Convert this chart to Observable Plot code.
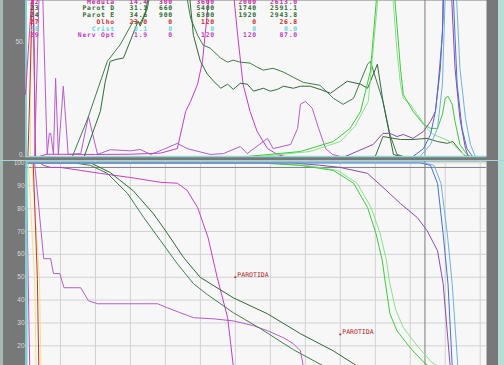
<!DOCTYPE html>
<html><head><meta charset="utf-8">
<script src="https://cdn.jsdelivr.net/npm/d3@7"></script>
<script src="https://cdn.jsdelivr.net/npm/@observablehq/plot@0.6"></script>
<style>
html,body{margin:0;padding:0;background:#787878;}
#wrap{position:relative;width:504px;height:365px;overflow:hidden;background:#787878;}
#edgeL{position:absolute;left:0;top:0;width:3px;height:365px;background:#a3bab5;}
#edgeR{position:absolute;left:498px;top:0;width:6px;height:365px;background:#b5ddd5;}
#top{position:absolute;left:0;top:0;}
#bot{position:absolute;left:0;top:160px;border-top:1px solid #9fd6d6;}
#table{position:absolute;left:0;top:0;width:504px;height:45px;font:bold 6.4px "DejaVu Sans Mono",monospace;letter-spacing:0.8px;}
#table span{position:absolute;white-space:pre;line-height:6px;}
</style></head>
<body>
<div id="wrap"><div id="edgeL"></div><div id="edgeR"></div><div id="top"></div><div id="bot"></div><div id="table"></div></div>
<script>
// ---- statistics table ----
const tableIds = ["22","23","24","27","28","29"];
const tableNames = ["Medula","Parot D","Parot E","Olho","Crist","Nerv Opt"];
const tableVolume = ["14.4","31.1","34.6","23.0","0.1","1.9"];
const tableMin = ["300","660","900","0","0","0"];
const tableMax = ["3600","5400","6300","120","0","120"];
const tableCol4 = ["2000","1740","1920","0","0","120"];
const tableMean = ["2613.0","2591.1","2943.8","26.8","0.0","87.0"];
const tableColors = ["#c42ea6","#2d6b2d","#2d6b2d","#d42a2a","#5fd7d7","#c23cc2"];

// ---- axes ----
const topTicks = [0, 50];
const bottomTicks = [20, 30, 40, 50, 60, 70, 80, 90, 100];
const doseGrid = [5,10,15,20,25,30,35,40,45,50,55,60,65];
const prescriptionDose = [57.1];
const refVolume = [98];
const constraintDose = [30, 45];
const constraintVolume = [50, 25];
const constraintLabel = ["PAROTIDA", "PAROTIDA"];

// ---- cumulative DVH (dose Gy, volume %) ----
const cumCrist = [[0.15,100],[0.15,11]];
const cumNervOpt = [[0.1,100],[0.2,82],[0.6,11]];
const cumYellow1 = [[0.4,100],[1.3,49],[1.5,11]];
const cumOlho = [[1.1,100],[1.7,49],[1.9,11]];
const cumYellow2 = [[0.9,100],[2.0,49],[2.2,11]];
const cumTail = [[1.3,100],[2.6,58.1],[3.6,58.1],[4.0,51.6],[4.9,51.6],[5.5,45.4],[7.9,45.4],[9.0,39.7],[10.3,38.4],[18.9,38.4],[20.3,36.6],[22.1,34.5],[24,32.3],[26.9,31.8],[29.7,30.9],[32.6,28.8],[34.6,26.6],[36.9,23.5],[38.3,20.9],[39.3,17.8],[39.7,11.2]];
const cumMedula = [[0,100],[2.0,100],[2.6,98.9],[3.6,98],[5,98],[7.9,96.7],[10.7,95.4],[15,93.6],[19.3,91.5],[21.7,91.1],[23.1,88],[24.6,80.5],[25.4,73.5],[26.1,67.3],[27.4,49.9],[28.9,32.3],[29.7,11.2]];
const cumParotD = [[0,100],[6.9,100],[9.3,98.9],[11.7,95.4],[14.6,86.6],[16.9,76.1],[19.3,66],[21.7,55.9],[24,47.2],[26,42.4],[29.7,34.5],[33.6,27.5],[38.3,18.3],[42.6,11.2]];
const cumParotE = [[0,100],[9.3,100],[12.1,95.8],[15.4,87.8],[18.3,77.7],[20.3,69.1],[22.6,58.6],[25,49.9],[29.7,41],[34.6,34],[39.3,25.3],[44,17.8],[47.4,11.2]];
const cumGreen1 = [[0,100],[33.6,100],[39.3,98.9],[44,96.7],[46.9,91.1],[48.9,80.5],[50.1,69.1],[51,57.3],[51.4,48.4],[52.1,34],[53.1,26.6],[55,19.1],[56.9,12.9],[57.6,11.2]];
const cumGreen2 = [[0,100],[32.9,100],[40,98.9],[44.6,96.7],[47.4,91.1],[49.4,80.5],[50.7,69.1],[51.6,57.3],[52,48.4],[52.9,36],[54,28],[56,20],[58,13],[58.9,11.2]];
const cumPurple = [[0,100],[38,100],[42,99],[45,98],[48.9,95.4],[51.1,89.3],[53.6,82.2],[56,76.1],[57.4,70.4],[58.9,61.6],[59.7,47.2],[60.7,11.2]];
const cumBlue1 = [[0,100],[56.4,100],[57.9,98.9],[58.9,91],[59.7,69],[60.4,47],[61,11.2]];
const cumBlue2 = [[0,100],[57,100],[58.4,98.9],[59.4,91],[60.3,69],[61,47],[61.8,11.2]];

// ---- differential DVH (dose Gy, relative volume) ----
const difCrist = [[0.1,0],[0.1,100]];
const difNervOpt = [[0,27.4],[1.1,80],[1.4,0]];
const difOlho = [[0.35,0],[0.65,32],[1.05,80],[1.45,0]];
const difYellow = [[0.7,0],[0.7,31.9],[1.0,90]];
const difTail = [[1.3,0],[2.2,100],[3.1,0.9],[3.4,10.2],[3.6,10.2],[4.0,0.9],[4.3,34.5],[4.7,0.9],[5.4,31],[6.1,0.9],[7.9,1.3],[9.0,17.7],[10.3,0.9],[12.1,3],[15,2.5],[16.4,3.1],[17.9,0.9],[19.7,3.1],[21.7,5.8],[23.1,3.5],[26.4,0.9],[28.3,1.3],[30.7,4.4],[31.7,1.3],[34.6,8],[35.4,3.5],[37.9,5.3],[38.9,12.4],[39.3,23],[40,24.3],[41,21.2],[41.9,12.4],[42.9,3.5],[43.9,0.9],[45,0]];
const difMedula = [[2.0,0],[3,1],[10,0.9],[15,1],[19.3,1.5],[21.7,3.5],[22.9,19.9],[23.6,24.3],[24.6,31.9],[25.3,42],[25.7,54.4],[27.5,110],[28.5,110],[30.3,54.4],[31.1,31.9],[32.1,19.9],[33.1,11.1],[34.6,3.5],[36,0.9],[37,0]];
const difParotD = [[6.7,0],[8.9,16.8],[11.7,42],[13.6,49.6],[15.4,59.7],[16.4,58.8],[17.4,65],[18.3,80],[22.5,80],[23.6,61.1],[24.6,53.5],[25.4,49.1],[26.4,47.8],[27.9,43.4],[28.9,41.6],[29.7,42.5],[30.7,41.6],[32.1,41.2],[33.1,39.4],[34,38.1],[35.4,38.9],[36.9,37.2],[38.3,34.9],[39.7,32.7],[42.1,31.4],[44,25.7],[45.4,23],[46.9,25.7],[48.9,40.7],[49.3,42],[51.1,24.3],[52.1,9.7],[53.1,0.9],[54,0]];
const difParotE = [[8.4,0],[10.7,19.9],[11.4,33],[12.1,42],[13.1,42.9],[14,43.4],[16.1,59.7],[16.4,57.5],[17.1,62.8],[18.5,85],[23,85],[24,53.5],[25,42],[26,36.3],[26.9,33.2],[27.9,30.1],[28.9,31.9],[29.7,29.6],[30.7,32.3],[31.7,31.9],[32.6,28.8],[34,30.1],[35,28.8],[36,29.6],[36.9,31],[38.3,30.1],[39.3,31],[40.7,31],[42.1,29.6],[43.6,27.9],[46,33.2],[47.9,31.9],[48.9,30.1],[50.3,40.7],[51.1,24.3],[52.6,0.9],[53.6,0]];
const difGreen3 = [[50,0],[51.1,8.8],[53.6,7.5],[55.4,7.5],[57.4,8],[58.9,6.6],[60.3,5.8],[61.1,6.6],[61.9,3.5],[62.6,0.9],[63.1,0]];
const difGreen1 = [[31.7,0],[39.3,2.2],[44,6.6],[46.4,12.4],[47.9,19.9],[49.3,37.6],[51,100],[52,100],[53.6,38.9],[54,27.4],[55.4,19.9],[56.9,14.2],[57.9,12.4],[58.9,12.4],[59.6,18.6],[60,25.7],[60.4,26.5],[61,23],[61.4,15.5],[62.1,5.3],[63.1,0.9],[63.6,0]];
const difGreen2 = [[33.6,0],[40.7,2.2],[45,6.6],[47.1,13.3],[49,24.3],[51.3,100],[51.8,100],[53.1,46.5],[53.6,31.9],[54,25.7],[55,23],[56,18.6],[57.4,12.4],[58.3,9.7],[59.7,8],[60.7,6.6],[61.7,3.5],[62.6,0.9],[63.1,0]];
const difPurple = [[45.7,0],[49.7,5.3],[51.1,10.2],[52.1,10.2],[53.1,8.8],[54,9.7],[55.4,8],[56.9,11.1],[57.9,15.5],[58.6,19.9],[59,31.9],[59.6,54],[59.9,110],[60.3,110],[61.4,38.9],[62.1,16.8],[62.9,3.5],[63.3,0]];
const difBlue1 = [[55.4,0],[56.9,3.5],[57.9,9.7],[58.6,19.9],[59.3,38.9],[59.7,61.1],[60,110],[60.6,110],[61.7,31.9],[62.4,12.4],[63.1,3.5],[63.9,0]];
const difBlue2 = [[56.4,0],[57.9,5.3],[58.9,12.4],[59.6,31.9],[60.4,110],[61,110],[62.1,38.9],[62.9,16.8],[63.6,5.3],[64.3,0]];

// ---- styles ----
const C = {
  crist:"#6ad8d8", nerv:"#d040b8", yellow:"#f0e48a", olho:"#c83030", tail:"#b65cd0",
  medula:"#c83cc8", parotD:"#3f7f47", parotE:"#2f6a3a", green1:"#3ccc3c", green2:"#88e288",
  purple:"#8a4cb0", blue1:"#4a6fd2", blue2:"#6fb1e2", green3:"#3a6e3a"
};
const xDomain = [0, 65.9];
const font = {fontFamily:"Liberation Sans, Arial, sans-serif", fontSize:"6.5px", background:"transparent", overflow:"visible"};
const L = (d, c, w=1) => Plot.line(d, {stroke:c, strokeWidth:w, clip:true});

const topPlot = Plot.plot({
  width:504, height:157, marginLeft:25, marginRight:18, marginTop:0, marginBottom:1,
  style:font,
  x:{domain:xDomain, axis:null},
  y:{domain:[0,68.8]},
  marks:[
    Plot.frame({fill:"#f7f7f7", stroke:null}),
    Plot.ruleX(prescriptionDose, {stroke:"#7c7c7c", strokeWidth:1}),
    Plot.ruleY([0], {stroke:"#8fd8d8", strokeWidth:1.5}),
    L(difCrist, C.crist, 1.5),
    L(difYellow, C.yellow),
    L(difOlho, C.olho),
    L(difNervOpt, C.nerv),
    L(difTail, C.tail),
    L(difMedula, C.medula),
    L(difParotD, C.parotD),
    L(difParotE, C.parotE),
    L(difGreen3, C.green3),
    L(difGreen2, C.green2),
    L(difGreen1, C.green1),
    L(difPurple, C.purple),
    L(difBlue1, C.blue1),
    L(difBlue2, C.blue2),
    Plot.axisY(topTicks, {tickSize:0, tickPadding:1, tickFormat:d => d + ".", color:"#dcdcdc", dy:-1.5, label:null})
  ]
});
document.getElementById("top").append(topPlot);

const constraints = constraintDose.map((d,i) => ({dose:d, vol:constraintVolume[i], label:constraintLabel[i]}));
const botPlot = Plot.plot({
  width:504, height:204, marginLeft:25, marginRight:18, marginTop:0, marginBottom:0,
  style:font,
  x:{domain:xDomain, axis:null},
  y:{domain:[11.4,100.6]},
  marks:[
    Plot.frame({fill:"#f7f7f7", stroke:null}),
    Plot.gridX(doseGrid, {stroke:"#d2d2d2", strokeOpacity:1}),
    Plot.gridY(bottomTicks, {stroke:"#d2d2d2", strokeOpacity:1}),
    Plot.ruleX(prescriptionDose, {stroke:"#7c7c7c", strokeWidth:1}),
    Plot.ruleY(refVolume, {stroke:"#808080", strokeWidth:1}),
    L(cumYellow1, C.yellow),
    L(cumYellow2, C.yellow),
    L(cumOlho, C.olho),
    L(cumNervOpt, C.nerv),
    L(cumTail, C.tail),
    L(cumMedula, C.medula),
    L(cumParotD, C.parotD),
    L(cumParotE, C.parotE),
    L(cumGreen2, C.green2),
    L(cumGreen1, C.green1),
    L(cumPurple, C.purple),
    L(cumBlue1, C.blue1),
    L(cumBlue2, C.blue2),
    L(cumCrist, C.crist, 2),
    Plot.dot(constraints, {x:"dose", y:"vol", r:1, fill:"#b02424", symbol:"square"}),
    Plot.text(constraints, {x:"dose", y:"vol", text:"label", textAnchor:"start", dx:2, dy:-2.5, fill:"#b02424", fontSize:6.5, fontFamily:"DejaVu Sans Mono"}),
    Plot.axisY(bottomTicks, {tickSize:0, tickPadding:1, color:"#dcdcdc", label:null})
  ]
});
document.getElementById("bot").append(botPlot);

// ---- table overlay ----
const tbl = document.getElementById("table");
const colsRight = [null, 115, 148, 173, 215, 257, 298];
const cols = [tableIds, tableNames, tableVolume, tableMin, tableMax, tableCol4, tableMean];
tableIds.forEach((_, i) => {
  const top = -1.5 + i * 6.75;
  cols.forEach((col, j) => {
    const s = document.createElement("span");
    s.textContent = col[i];
    s.style.color = tableColors[i];
    s.style.top = top + "px";
    if (j === 0) s.style.left = "30px";
    else s.style.right = (504 - colsRight[j]) + "px";
    tbl.append(s);
  });
});
</script>
</body></html>
